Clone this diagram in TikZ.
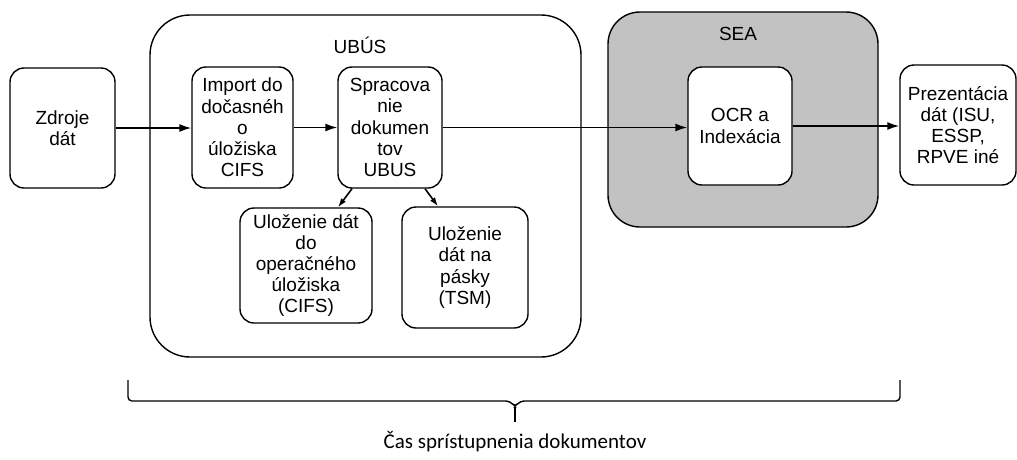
\documentclass[tikz,border=0pt]{standalone}
\usepackage{fontspec}
\setmainfont{Liberation Sans}
\newfontfamily\popisfont{Carlito}
\usepackage{tikz}
\usetikzlibrary{arrows.meta}
\tikzset{>={Latex[length=12pt,width=8pt]}}

\begin{document}
\begin{tikzpicture}[x=1pt, y=-1pt]
\tikzset{blok/.style={draw, line width=1.4pt, rounded corners=14pt, fill=white, align=center, inner sep=0pt, font=\fontsize{19}{21.2}\selectfont}}
\tikzset{obal/.style={draw, line width=1.4pt, inner sep=0pt}}
\tikzset{sipka/.style={->, line width=1.6pt}}
\useasboundingbox (0,0) rectangle (1017,459);

    % containers
    \node[obal, rounded corners=40pt, minimum width=431, minimum height=342] (ubus) at (365.5,186) {};
    \node[obal, rounded corners=32pt, fill=black!24, minimum width=270, minimum height=215] (sea) at (743,119.5) {};
    \node[font=\fontsize{19}{21}\selectfont] (ubusT) at (360,45) {UBÚS};
    \node[font=\fontsize{19}{21}\selectfont] (seaT) at (738,34) {SEA};

    % boxes
    \node[blok, minimum width=105, minimum height=120] (zdroje) at (62.5,128) {Zdroje\\dát};
    \node[blok, minimum width=101, minimum height=121] (import) at (242.5,127.5) {Import do\\dočasnéh\\o\\úložiska\\CIFS};
    \node[blok, minimum width=104, minimum height=121] (sprac) at (390,127.5) {Spracova\\nie\\dokumen\\tov\\UBUS};
    \node[blok, minimum width=132, minimum height=115] (ulozOp) at (306,265.5) {Uloženie dát\\do\\operačného\\úložiska\\(CIFS)};
    \node[blok, minimum width=126, minimum height=121] (ulozTsm) at (465,267.5) {Uloženie\\dát na\\pásky\\(TSM)};
    \node[blok, minimum width=104, minimum height=118] (ocr) at (740,126) {OCR a\\Indexácia};
    \node[blok, minimum width=116, minimum height=120] (prez) at (958,125) {Prezentácia\\dát (ISU,\\ESSP,\\RPVE iné};

    % arrows
    \draw[sipka] (zdroje.east) -- (zdroje.east -| import.west);
    \draw[sipka] (import.east) -- (import.east -| sprac.west);
    \draw[sipka] (sprac.east) -- (sprac.east -| ocr.west);
    \draw[sipka] (ocr.east) -- (ocr.east -| prez.west);
    \draw[sipka, >={Latex[length=9pt,width=6pt]}] ([xshift=-38pt]sprac.south) -- ([xshift=32pt]ulozOp.north);
    \draw[sipka, >={Latex[length=9pt,width=6pt]}] ([xshift=35pt]sprac.south) -- ([xshift=-27pt]ulozTsm.north);
% % % % % % % % % % % % % % % % % % %
    % brace
    \coordinate (klL) at (128,380);
    \coordinate (klR) at (900,380);
    \coordinate (klM) at (515,407);
    \coordinate (klT) at (515,422);
    \draw[line width=1.4pt, rounded corners=4pt] (klL) -- (128,401) -- (510,401) -- (klM) -- (520,401) -- (900,401) -- (klR);
    \draw[line width=1.4pt] (klM) -- (klT);

    \node[font=\popisfont\fontsize{21}{24}\selectfont, anchor=base] (cas) at (515,448) {Čas sprístupnenia dokumentov};
\end{tikzpicture}
\end{document}
